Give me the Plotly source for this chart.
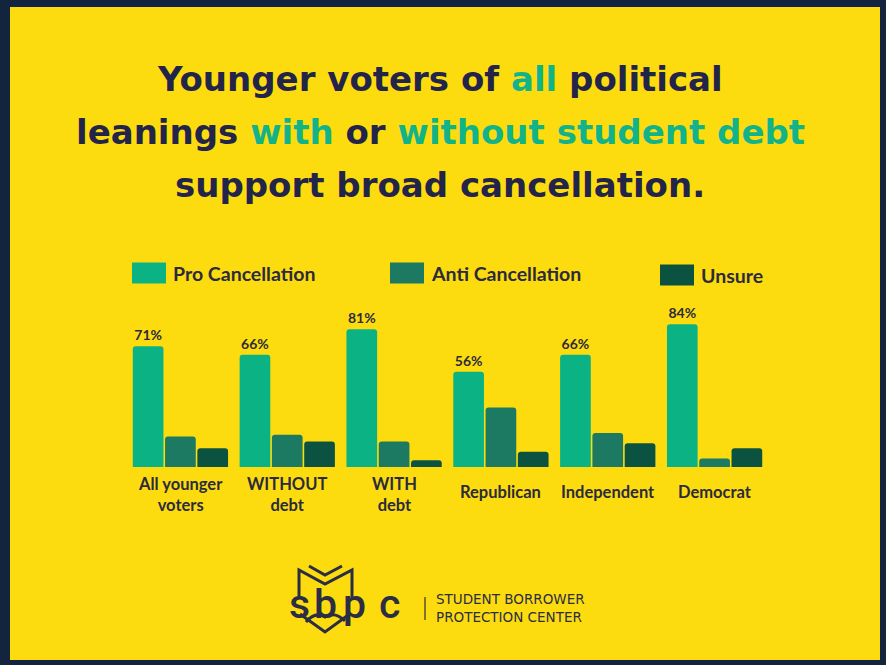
import plotly.graph_objects as go

# ---------------- data ----------------
categories = ["All younger<br>voters", "WITHOUT<br>debt", "WITH<br>debt",
              "Republican", "Independent", "Democrat"]
series_names = ["Pro Cancellation", "Anti Cancellation", "Unsure"]
pro_values = [71, 66, 81, 56, 66, 84]
anti_values = [18, 19, 15, 35, 20, 5]
unsure_values = [11, 15, 4, 9, 14, 11]
series_colors = ["#0bb384", "#1b7a61", "#0c5241"]

title_lines = [
    [("Younger voters of ", False), ("all", True), (" political", False)],
    [("leanings ", False), ("with", True), (" or ", False), ("without student debt", True)],
    [("support broad cancellation.", False)],
]

# ---------------- geometry helpers ----------------
W, H = 886, 665
L, R, T, B = 127, 118, 297, 198
PW, PH = W - L - R, H - T - B


def px(x):
    return (x - L) / PW


def py(y):
    return (H - B - y) / PH


NAVY = "#13243f"
YELLOW = "#fddc0f"
TXT = "#23244a"
GREEN = "#12b388"
DARK = "#2b2b3b"

fig = go.Figure()
for name, vals, col in zip(series_names, [pro_values, anti_values, unsure_values], series_colors):
    is_pro = name == series_names[0]
    fig.add_trace(go.Bar(
        x=categories, y=vals, name=name,
        marker=dict(color=col, line=dict(width=0)),
        text=[f"{v}%" for v in vals] if is_pro else None,
        textposition="outside" if is_pro else "none",
        textfont=dict(family="Lato", size=14, color=DARK, weight="bold"),
        cliponaxis=False,
        showlegend=False,
        hoverinfo="skip",
    ))

shapes = [
    dict(type="rect", xref="paper", yref="paper", x0=px(10), x1=px(880), y0=py(660), y1=py(7),
         fillcolor=YELLOW, line=dict(width=0), layer="below"),
]
annotations = []

# title lines
title_y = [79, 132, 185]
for line, yy in zip(title_lines, title_y):
    txt = "".join(
        f"<span style='color:{GREEN}'>{s}</span>" if hl else s for s, hl in line
    )
    annotations.append(dict(
        text=f"<b>{txt}</b>", xref="paper", yref="paper", x=px(440), y=py(yy),
        xanchor="center", yanchor="middle", showarrow=False,
        font=dict(family="DejaVu Sans", size=34, color=TXT),
    ))

# legend
leg_swatch_x = [132, 390, 660]
leg_y = [273, 273, 275]
for name, col, sx, ly in zip(series_names, series_colors, leg_swatch_x, leg_y):
    shapes.append(dict(type="rect", xref="paper", yref="paper",
                       x0=px(sx), x1=px(sx + 34), y0=py(ly + 10.5), y1=py(ly - 10.5),
                       fillcolor=col, line=dict(width=0)))
    annotations.append(dict(
        text=f"<b>{name}</b>", xref="paper", yref="paper", x=px(sx + 39), y=py(ly),
        xanchor="left", yanchor="middle", showarrow=False,
        font=dict(family="Lato", size=19.5, color=DARK),
    ))

# category labels
for c in categories:
    two = "<br>" in c
    annotations.append(dict(
        text=f"<b>{c}</b>", xref="x", yref="paper", x=c, y=py(494 if two else 492),
        xanchor="center", yanchor="middle", showarrow=False,
        font=dict(family="Lato", size=16.5, color=DARK),
    ))

# logo
LOGO = "#2b2d45"


def pth(points):
    return "M " + " L ".join(f"{px(a)},{py(b)}" for a, b in points)


shapes.append(dict(type="path", xref="paper", yref="paper",
                   path=pth([(299, 598), (299, 570), (325, 584), (352, 570), (352, 598)]),
                   line=dict(color=LOGO, width=3)))
shapes.append(dict(type="path", xref="paper", yref="paper",
                   path=pth([(309, 566), (325, 575), (342, 566)]),
                   line=dict(color=LOGO, width=3)))
shapes.append(dict(type="path", xref="paper", yref="paper",
                   path=pth([(300, 614), (325, 632), (351, 613)]),
                   line=dict(color=LOGO, width=3)))
shapes.append(dict(type="path", xref="paper", yref="paper",
                   path=(f"M {px(306)},{py(622)} Q {px(315)},{py(611)} {px(325)},{py(617)} "
                         f"Q {px(335)},{py(611)} {px(345)},{py(621)}"),
                   line=dict(color=LOGO, width=3)))
for ch, cx in zip("sbpc", [299, 325, 354, 389]):
    annotations.append(dict(
        text=ch, xref="paper", yref="paper", x=px(cx), y=py(604),
        xanchor="center", yanchor="middle", showarrow=False,
        font=dict(family="Roboto", size=41, color=LOGO, weight=500),
    ))
shapes.append(dict(type="line", xref="paper", yref="paper",
                   x0=px(425), x1=px(425), y0=py(597), y1=py(620),
                   line=dict(color=LOGO, width=1.2)))
annotations.append(dict(
    text="STUDENT BORROWER<br>PROTECTION CENTER", xref="paper", yref="paper",
    x=px(434), y=py(608), xanchor="left", yanchor="middle", align="left",
    showarrow=False, font=dict(family="DejaVu Sans", size=13.5, color=LOGO),
))

fig.update_layout(
    width=W, height=H,
    margin=dict(l=L, r=R, t=T, b=B, pad=0),
    paper_bgcolor=NAVY, plot_bgcolor="rgba(0,0,0,0)",
    barmode="group", bargap=0.093, bargroupgap=0.05, barcornerradius=3,
    xaxis=dict(showticklabels=False, showgrid=False, zeroline=False, showline=False, ticks=""),
    yaxis=dict(range=[0, 100], visible=False, showgrid=False, zeroline=False),
    shapes=shapes, annotations=annotations,
    showlegend=False,
)

fig.write_html("out.html")
